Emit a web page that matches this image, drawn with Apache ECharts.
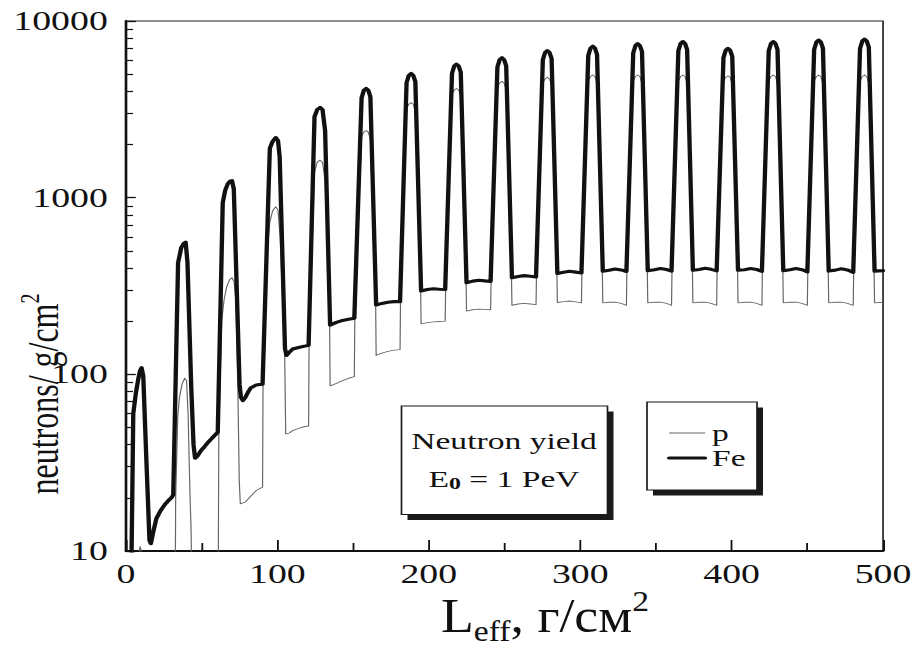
<!DOCTYPE html>
<html><head><meta charset="utf-8">
<script src="https://cdn.jsdelivr.net/npm/echarts@6.0.0/dist/echarts.min.js"></script>
<style>
html,body{margin:0;padding:0;background:#fff;overflow:hidden;}
#wrap{width:916px;height:648px;overflow:hidden;position:relative;background:#fff;}
#chart{width:654.2857px;height:648px;transform:scaleX(1.4);transform-origin:0 0;}
</style></head><body>
<div id="wrap"><div id="chart"></div></div>
<script>
// ---------------- data ----------------
const seriesNames = ['p', 'Fe'];
const yTickLabels = ['10', '100', '1000', '10000'];
const xTickLabels = ['0', '100', '200', '300', '400', '500'];

const feX = [
 2.6, 3.7, 4.8, 6.5, 8.1, 9.3, 10.3, 11.4, 13.5, 15.5, 16.4, 18.0, 20.1, 22.8, 25.6, 28.0, 30.0, 31.2,
 32.2, 34.4, 36.5, 38.3, 39.4, 40.6, 43.1, 44.6, 45.6, 47.2, 49.5, 51.9, 54.5, 57.3, 60.6,
 63.9, 65.5, 67.2, 68.8, 70.0, 71.2, 75.0, 75.9, 77.2, 78.8, 80.5, 82.5, 86.0, 90.2,
 95.0, 96.8, 98.9, 100.4, 101.5, 105.0, 106.0, 107.8, 110.0, 114.0, 117.5, 120.6,
 124.5, 126.3, 128.2, 129.8, 131.5, 134.8, 139.0, 143.0, 147.0, 150.8,
 155.6, 157.1, 158.6, 160.0, 161.4, 165.2, 169.0, 173.0, 177.0, 181.0,
 185.3, 186.8, 188.3, 189.7, 191.1, 194.9, 199.0, 203.0, 207.0, 210.8,
 215.3, 216.8, 218.3, 219.7, 221.1, 224.9, 229.0, 233.0, 237.0, 240.8,
 245.3, 246.8, 248.3, 249.7, 251.1, 254.9, 259.0, 263.0, 267.0, 270.8,
 275.3, 276.8, 278.3, 279.7, 281.1, 284.9, 289.0, 293.0, 297.0, 300.8,
 305.3, 306.8, 308.3, 309.7, 311.1, 314.9, 319.0, 323.0, 327.0, 330.5,
 335.0, 336.5, 338.0, 339.4, 340.8, 344.6, 349.0, 353.0, 357.0, 360.3,
 364.8, 366.3, 367.8, 369.2, 370.6, 374.4, 378.5, 382.5, 386.5, 390.1,
 394.6, 396.1, 397.6, 399.0, 400.4, 404.2, 408.5, 412.5, 416.5, 420.0,
 424.5, 426.0, 427.5, 428.9, 430.3, 434.1, 438.5, 442.5, 446.5, 450.0,
 454.5, 456.0, 457.5, 458.9, 460.3, 464.1, 468.5, 472.5, 476.5, 480.3,
 484.8, 486.3, 487.8, 489.2, 490.6, 494.4, 497.0, 500.0
];
const feY = [
 4, 10, 60, 78, 94, 105, 109, 98, 32, 11.5, 11.0, 12.8, 15.3, 16.9, 18.3, 19.3, 20.0, 20.8,
 53, 428, 522, 553, 560, 430, 84, 40, 33.5, 34.5, 37, 39, 41.5, 44, 47,
 936, 1100, 1196, 1240, 1250, 1120, 88, 74, 71, 74, 79, 84, 87, 88,
 1900, 2080, 2190, 2100, 1700, 140, 128, 133, 139, 142, 144, 146,
 2870, 3150, 3240, 3150, 2400, 190, 197, 202, 205, 208,
 3670, 4050, 4150, 4050, 3735, 247, 252, 256, 258, 258,
 4470, 4920, 5050, 4920, 4545, 296, 302, 305, 303, 302,
 5045, 5560, 5700, 5560, 5130, 330, 337, 341, 338, 336,
 5490, 6045, 6200, 6045, 5580, 352, 358, 362, 359, 356,
 6020, 6630, 6800, 6630, 6120, 372, 378, 383, 379, 375,
 6370, 7020, 7200, 7020, 6480, 383, 388, 395, 390, 382,
 6590, 7260, 7450, 7260, 6700, 386, 391, 397, 392, 384,
 6770, 7460, 7650, 7460, 6885, 388, 392, 398, 393, 385,
 6200, 6825, 7000, 6825, 6300, 388, 391, 397, 392, 383,
 6770, 7460, 7650, 7460, 6885, 386, 391, 397, 391, 380,
 6900, 7600, 7800, 7600, 7020, 384, 389, 396, 390, 378,
 6990, 7700, 7900, 7700, 7110, 384, 385, 386
];

const pX = [
 2.6, 7.0, 8.3, 9.3, 10.4, 12.0, 16.0, 31.6,
 32.4, 32.8, 34.2, 35.3, 37.0, 38.7, 40.0, 41.0, 42.2, 43.0, 43.5, 60.8,
 61.3, 63.2, 64.8, 66.6, 68.5, 70.0, 71.4, 72.6, 73.8, 74.8, 75.5, 79.0, 82.5, 86.0, 90.2,
 90.5, 93.0, 95.0, 96.8, 98.9, 100.4, 101.8, 104.8, 105.5, 107.8, 110.0, 114.0, 117.5, 120.6,
 120.9, 124.5, 126.3, 128.2, 129.8, 131.5, 134.5, 134.8, 139.0, 143.0, 147.0, 150.8,
 151.1, 155.6, 157.1, 158.6, 160.0, 161.4, 164.9, 165.2, 169.0, 173.0, 177.0, 181.0,
 181.3, 185.3, 186.8, 188.3, 189.7, 191.1, 194.6, 194.9, 199.0, 203.0, 207.0, 210.8,
 211.1, 215.3, 216.8, 218.3, 219.7, 221.1, 224.6, 224.9, 229.0, 233.0, 237.0, 240.8,
 241.1, 245.3, 246.8, 248.3, 249.7, 251.1, 254.6, 254.9, 259.0, 263.0, 267.0, 270.8,
 271.1, 275.3, 276.8, 278.3, 279.7, 281.1, 284.6, 284.9, 289.0, 293.0, 297.0, 300.8,
 301.1, 305.3, 306.8, 308.3, 309.7, 311.1, 314.6, 314.9, 319.0, 323.0, 327.0, 330.5,
 330.8, 335.0, 336.5, 338.0, 339.4, 340.8, 344.3, 344.6, 349.0, 353.0, 357.0, 360.3,
 360.6, 364.8, 366.3, 367.8, 369.2, 370.6, 374.1, 374.4, 378.5, 382.5, 386.5, 390.1,
 390.4, 394.6, 396.1, 397.6, 399.0, 400.4, 403.9, 404.2, 408.5, 412.5, 416.5, 420.0,
 420.3, 424.5, 426.0, 427.5, 428.9, 430.3, 433.8, 434.1, 438.5, 442.5, 446.5, 450.0,
 450.3, 454.5, 456.0, 457.5, 458.9, 460.3, 463.8, 464.1, 468.5, 472.5, 476.5, 480.3,
 480.6, 484.8, 486.3, 487.8, 489.2, 490.6, 494.1, 494.4, 497.0, 500.0
];
const pY = [
 1, 6, 9.2, 10.6, 9.8, 5, 3, 3.2,
 3.5, 20, 58, 74, 88, 95, 92, 60, 22, 13, 6, 4,
 47, 200, 265, 315, 345, 352, 335, 260, 90, 25, 18.5, 19, 20.5, 22, 23,
 88, 480, 730, 840, 890, 850, 600, 130, 46, 46.5, 48, 49.5, 50.5, 51,
 146, 1400, 1590, 1630, 1580, 1250, 190, 86, 89, 92, 95, 97,
 208, 2230, 2350, 2400, 2350, 2160, 247, 128, 132, 135, 137, 138,
 258, 3210, 3380, 3450, 3380, 3100, 296, 193, 196, 198, 199, 200,
 302, 3860, 4070, 4150, 4070, 3735, 330, 228, 232, 234, 233, 232,
 336, 4230, 4460, 4550, 4460, 4100, 352, 246, 250, 252, 250, 248,
 356, 4460, 4700, 4800, 4700, 4320, 372, 255, 258, 260, 257, 254,
 375, 4600, 4850, 4950, 4850, 4450, 383, 254, 256, 256, 252, 246,
 382, 4600, 4850, 4950, 4850, 4450, 386, 254, 256, 256, 252, 246,
 384, 4600, 4850, 4950, 4850, 4450, 388, 254, 256, 256, 252, 246,
 385, 4560, 4800, 4900, 4800, 4410, 388, 254, 256, 256, 252, 246,
 383, 4600, 4850, 4950, 4850, 4450, 386, 254, 256, 256, 252, 246,
 380, 4600, 4850, 4950, 4850, 4450, 384, 254, 256, 256, 252, 246,
 378, 4600, 4850, 4950, 4850, 4450, 384, 254, 255, 255
];

// ---------------- layout ----------------
const S = 1.4;               // horizontal stretch of the original figure
const W0 = 916 / S;
const fx = v => v / S;       // final-pixel x -> drawing x
const FONT = "'Liberation Serif','Times New Roman',serif";
const INK = '#111';
const P_COLOR = '#666';

const pairs = (xs, ys) => xs.map((x, i) => [x, ys[i]]);

const chart = echarts.init(document.getElementById('chart'), null, {renderer: 'svg'});

const box = (l, t, r, b, z) => [
  {type: 'rect', z: z, shape: {x: fx(l) + fx(6), y: t + 5.5, width: fx(r - l), height: b - t},
   style: {fill: '#1a1a1a'}},
  {type: 'rect', z: z + 1, shape: {x: fx(l), y: t, width: fx(r - l), height: b - t},
   style: {fill: '#fff', stroke: '#1a1a1a', lineWidth: 1.2}}
];

chart.setOption({
  animation: false,
  backgroundColor: '#fff',
  grid: {left: fx(126), right: W0 - fx(889), top: 21, bottom: 97, containLabel: false,
         show: true, borderColor: '#222', borderWidth: 1.2, backgroundColor: 'transparent'},
  xAxis: {
    type: 'value', min: 0, max: 500, interval: 100,
    axisLine: {lineStyle: {color: INK, width: 2}},
    axisTick: {inside: true, length: 11, lineStyle: {color: INK, width: 1.3}},
    minorTick: {show: true, splitNumber: 2, length: 8, lineStyle: {color: INK, width: 1.3}},
    splitLine: {show: false},
    axisLabel: {fontFamily: FONT, fontSize: 27, color: INK, margin: 9,
                formatter: v => xTickLabels[Math.round(v / 100)]}
  },
  yAxis: {
    type: 'log', logBase: 10, min: 10, max: 10000,
    axisLine: {show: true, lineStyle: {color: INK, width: 1.9}},
    axisTick: {show: true, inside: true, length: 7, lineStyle: {color: INK, width: 1.3}},
    minorTick: {show: true, splitNumber: 9, length: 5, lineStyle: {color: INK, width: 1.2}},
    splitLine: {show: false}, minorSplitLine: {show: false},
    axisLabel: {fontFamily: FONT, fontSize: 27, color: INK, margin: 13,
                formatter: v => yTickLabels[Math.round(Math.log10(v)) - 1]}
  },
  legend: {
    data: [
      {name: seriesNames[0], itemStyle: {opacity: 0}, lineStyle: {width: 0.9, color: P_COLOR}},
      {name: seriesNames[1], itemStyle: {opacity: 0}, lineStyle: {width: 3, color: INK}}
    ],
    orient: 'vertical', left: fx(667), top: 421, z: 10,
    itemWidth: fx(36), itemHeight: 12, itemGap: 1, padding: 0,
    textStyle: {fontFamily: FONT, fontSize: 24, color: INK, lineHeight: 24},
    selectedMode: false
  },
  series: [
    {name: seriesNames[0], type: 'line', data: pairs(pX, pY), symbol: 'none', showSymbol: false,
     clip: true, silent: true, z: 2, itemStyle: {color: P_COLOR},
     lineStyle: {color: P_COLOR, width: 0.85, join: 'round'}},
    {name: seriesNames[1], type: 'line', data: pairs(feX, feY), symbol: 'none', showSymbol: false,
     clip: true, silent: true, z: 3, itemStyle: {color: INK},
     lineStyle: {color: INK, width: 3.1, join: 'round', cap: 'round'}}
  ],
  graphic: [
    ...box(401.5, 406, 607.5, 514.5, 5),
    ...box(647, 402, 757, 490, 5),
    {type: 'text', z: 8, x: fx(504), y: 441,
     style: {text: 'Neutron yield', fontFamily: FONT, fontSize: 24, fill: INK,
             align: 'center', verticalAlign: 'middle'}},
    {type: 'text', z: 8, x: fx(504), y: 479,
     style: {text: '{a|E}{b|0}{a| = 1 PeV}', align: 'center', verticalAlign: 'middle',
             rich: {a: {fontFamily: FONT, fontSize: 24, fill: INK, lineHeight: 26},
                    b: {fontFamily: FONT, fontSize: 17, fontWeight: 'bold', fill: INK,
                        lineHeight: 16, verticalAlign: 'bottom'}}}},
    {type: 'text', z: 8, x: fx(545), y: 616, scaleX: 0.8,
     style: {text: '{m|L}{s|eff}{m|, г/см}{u|2}', align: 'center', verticalAlign: 'middle',
             rich: {m: {fontFamily: FONT, fontSize: 48, fill: INK, lineHeight: 60},
                    s: {fontFamily: FONT, fontSize: 30, fill: INK, lineHeight: 22, verticalAlign: 'bottom'},
                    u: {fontFamily: FONT, fontSize: 30, fill: INK, lineHeight: 38, verticalAlign: 'top'}}}},
    {type: 'text', z: 8, x: fx(42), y: 394, rotation: Math.PI / 2,
     style: {text: '{m|neutrons/ g/cm}{u|2}', align: 'center', verticalAlign: 'middle',
             rich: {m: {fontFamily: FONT, fontSize: 32, fill: INK, lineHeight: 38},
                    u: {fontFamily: FONT, fontSize: 20, fill: INK, lineHeight: 24, verticalAlign: 'top'}}}}
  ]
});
</script>
</body></html>
